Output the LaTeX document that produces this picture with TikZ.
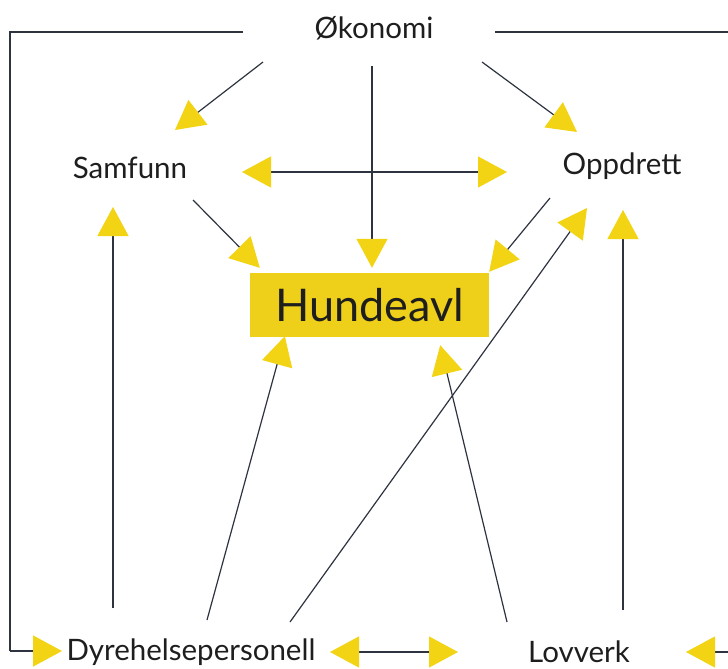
\documentclass[tikz,border=0pt]{standalone}
\usepackage{fontspec}
\setmainfont{Lato}
\usetikzlibrary{arrows.meta,calc}
\definecolor{arrY}{HTML}{F2D414}
\definecolor{boxY}{HTML}{EECF1A}
\definecolor{lineC}{HTML}{2E3340}
\definecolor{txtC}{HTML}{1E1E1E}
\tikzset{
  lbl/.style={inner sep=0pt, text=txtC, font=\fontsize{29.5}{32}\selectfont},
  conn/.style={draw=lineC, line width=1.2pt},
  arr/.style={conn, -{Triangle[length=29pt,width=31pt,fill=arrY,color=arrY]}},
  arrs/.style={conn, {Triangle[length=29pt,width=31pt,fill=arrY,color=arrY]}-{Triangle[length=29pt,width=31pt,fill=arrY,color=arrY]}},
}
\begin{document}
\begin{tikzpicture}[x=1pt,y=-1pt]
\useasboundingbox (0,0) rectangle (728,669);
\fill[white] (0,0) rectangle (728,669);
% nodes
\node[lbl] (ok)  at (374,28) {Økonomi};
\node[lbl] (sam) at (130,168) {Samfunn};
\node[lbl] (opp) at (622,166) {Oppdrett};
\node[lbl] (dyr) at (191,652) {Dyrehelsepersonell};
\node[lbl] (lov) at (579,652) {Lovverk};
\node[fill=boxY, minimum width=239pt, minimum height=64pt, inner sep=0pt,
      text=txtC, font=\fontsize{45}{48}\selectfont] (hund) at (369.5,305) {Hundeavl};
% connectors from Økonomi
\draw[arr] ($(ok)+(-111,34)$) -- ($(sam)+(45,-38)$);
\draw[arr] ($(ok)+(-2,38)$) -- ($(hund.north)+(2.5,-5)$);
\draw[arr] ($(ok)+(108,34)$) -- ($(opp)+(-45,-34)$);
% Samfunn <-> Oppdrett
\draw[arrs] ($(sam)+(112,4)$) -- ($(opp)+(-115,6)$);
% to Hundeavl
\draw[arr] ($(sam)+(63,32)$) -- ($(hund.north west)+(10,-5)$);
\draw[arr] ($(opp)+(-72,32)$) -- ($(hund.north east)+(0,-1)$);
% from Dyrehelsepersonell
\draw[arr] ($(dyr)+(-78,-44)$) -- ($(sam)+(-17,39)$);
\draw[arr] ($(dyr)+(16,-32)$) -- ($(hund.south west)+(35,-1)$);
\draw[arr] ($(dyr)+(99,-30)$) -- ($(opp)+(-35,42)$);
% from Lovverk
\draw[arr] ($(lov)+(-72,-30)$) -- ($(hund.south east)+(-49,8)$);
\draw[arr] ($(lov)+(44,-42)$) -- ($(opp)+(1,44)$);
% Dyrehelsepersonell <-> Lovverk
\draw[arrs] ($(dyr)+(139,0)$) -- ($(lov)+(-121,0)$);
% outer frame
\coordinate (tl) at (10,32);
\coordinate (bl) at (10,651);
\coordinate (tr) at (728,32);
\coordinate (br) at (728,652);
\draw[conn] ($(ok)+(-131,4)$) -- (tl) -- (bl);
\draw[arr] (bl) -- ($(dyr)+(-129,-1)$);
\draw[conn] ($(ok)+(121,4)$) -- (tr);
\draw[arr] (br) -- ($(lov)+(107,0)$);
\end{tikzpicture}
\end{document}
